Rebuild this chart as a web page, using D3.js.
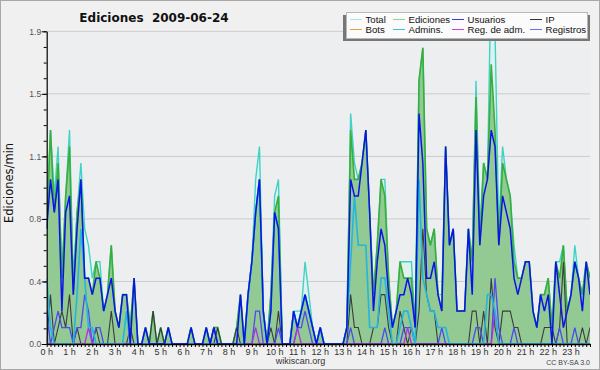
<!DOCTYPE html>
<html><head><meta charset="utf-8">
<script src="https://cdn.jsdelivr.net/npm/d3@7"></script>
<style>body{margin:0;background:#f0f0f0;} svg{display:block}</style>
</head><body><svg id="c" width="600" height="370"></svg>
<script>
const title = "Ediciones  2009-06-24";
const yLabel = "Ediciones/min";
const yTickLabels = ["0.0","0.4","0.8","1.1","1.5","1.9"];
const hourLabels = ["0 h","1 h","2 h","3 h","4 h","5 h","6 h","7 h","8 h","9 h","10 h","11 h",
  "12 h","13 h","14 h","15 h","16 h","17 h","18 h","19 h","20 h","21 h","22 h","23 h"];
const seriesNames = ["Total","Ediciones","Usuarios","IP","Bots","Admins.","Reg. de adm.","Registros"];
// edits per 10-minute slot (slot 0 = 0:00 ... slot 143 = 23:50); value/10 = ediciones por minuto
const total = [
  8,13,9,12,4,9,13,4,8,11,7,6,  4,5,5,2,3,6,2,1,3,3,1,4,
  0,0,1,0,2,0,1,0,1,0,0,0,  0,0,1,0,0,0,1,0,1,1,0,0,
  0,0,1,3,0,3,5,10,12,2,0,3,  9,10,0,0,0,2,2,2,5,3,1,0,
  1,0,0,0,0,0,0,1,14,11,10,11,  13,8,3,6,10,10,4,1,2,5,5,5,
  5,1,16,18,7,6,7,3,3,12,6,7,  2,2,2,7,5,16,7,11,10,23,19,7,
  12,10,9,6,4,4,5,5,2,1,3,3,  4,1,5,5,6,2,3,6,4,3,5,4];
const ediciones = [
  7,13,8,11,4,9,12,3,8,10,4,4,  3,5,4,2,3,6,2,1,3,3,1,4,
  0,0,1,0,2,0,1,0,1,0,0,0,  0,0,1,0,0,0,1,0,1,1,0,0,
  0,0,1,3,0,3,5,8,10,2,0,3,  8,9,0,0,0,2,1,2,3,2,1,0,
  1,0,0,0,0,0,0,1,13,10,10,11,  13,8,3,6,10,9,4,1,2,5,4,4,
  4,1,16,18,7,6,7,3,2,12,6,7,  2,2,2,7,5,15,6,11,10,17,13,6,
  11,10,9,5,4,4,5,5,2,1,3,3,  4,1,5,4,6,2,3,5,4,3,5,4];
const usuarios = [
  7,10,8,10,2,8,9,3,7,10,4,4,  3,4,4,2,3,4,2,1,3,3,0,4,
  0,0,1,0,0,0,0,0,1,0,0,0,  0,0,1,0,0,0,1,0,1,0,0,0,
  0,0,0,3,0,3,5,8,10,2,0,2,  8,7,0,0,0,2,1,2,3,2,1,0,
  1,0,0,0,0,0,0,1,10,9,9,11,  13,8,2,5,7,6,3,1,2,3,3,4,
  3,1,14,11,4,4,5,3,2,12,6,7,  2,2,2,7,3,13,6,9,10,13,12,6,
  9,8,7,4,3,4,5,5,2,1,3,2,  3,0,5,3,1,2,3,5,4,2,5,3];
const ip = [
  0,3,0,1,2,1,3,0,1,0,0,0,  0,1,0,0,0,2,0,0,0,0,1,0,
  0,0,0,0,2,0,1,0,0,0,0,0,  0,0,0,0,0,0,0,0,0,1,0,0,
  0,0,1,0,0,0,0,0,0,0,0,1,  0,2,0,0,0,0,0,0,0,0,0,0,
  0,0,0,0,0,0,0,0,3,1,1,0,  0,0,1,1,3,3,1,0,0,2,1,0,
  1,0,2,7,3,2,2,0,0,0,0,0,  0,0,0,0,2,2,0,2,0,4,1,0,
  2,2,2,1,1,0,0,0,0,0,0,1,  1,1,0,1,5,0,0,0,0,1,0,1];
const bots = [
  0,0,0,0,0,0,0,0,0,0,0,0,  0,0,0,0,0,0,0,0,0,0,0,0,
  0,0,0,0,0,0,0,0,0,0,0,0,  0,0,0,0,0,0,0,0,0,0,0,0,
  0,0,0,0,0,0,0,0,0,0,0,0,  0,0,0,0,0,0,0,0,0,0,0,0,
  0,0,0,0,0,0,0,0,0,0,0,0,  0,0,0,0,0,0,0,0,0,0,0,0,
  0,0,0,0,0,0,0,0,0,0,0,0,  0,0,0,0,0,0,0,0,0,0,0,0,
  0,0,0,0,0,0,0,0,0,0,0,0,  0,0,0,0,0,0,0,0,0,0,0,0];
const admins = [
  4,1,0,0,0,0,0,0,3,7,4,1,  1,0,0,0,0,0,0,0,0,2,0,0,
  0,0,0,0,0,0,0,0,0,0,0,0,  0,0,0,0,0,0,0,0,0,0,0,0,
  0,0,0,0,0,3,5,8,10,2,0,2,  8,7,0,0,0,2,1,2,3,2,1,0,
  1,0,0,0,0,0,0,1,5,9,6,6,  6,1,1,1,4,4,2,0,0,1,2,2,
  1,0,10,4,3,2,2,1,1,1,0,0,  0,0,0,0,0,0,0,0,3,3,2,0,
  0,0,0,0,0,0,0,0,0,0,0,0,  0,0,0,0,0,0,0,0,0,0,0,0];
const regAdm = [
  0,0,0,0,0,0,0,0,0,0,0,1,  0,0,0,0,0,0,0,0,0,0,0,0,
  0,0,0,0,0,0,0,0,0,0,0,0,  0,0,0,0,0,0,0,0,0,0,0,0,
  0,0,0,0,0,0,0,1,0,0,0,0,  0,0,0,0,0,0,1,0,0,0,0,0,
  0,0,0,0,0,0,0,0,0,0,0,0,  0,0,0,0,0,0,0,0,0,0,0,1,
  0,0,0,0,0,0,0,0,0,0,0,0,  0,0,0,0,0,0,0,0,0,0,2,0,
  0,0,0,0,0,0,0,0,0,0,0,0,  0,0,0,0,0,0,0,0,0,0,0,0];
const registros = [
  2,0,1,2,1,1,1,0,1,1,3,2,  0,1,1,0,0,0,0,0,0,0,0,0,
  0,0,0,0,0,0,0,0,0,0,0,0,  0,0,0,0,0,0,0,0,1,0,0,0,
  0,0,0,0,0,0,0,2,2,0,0,0,  0,1,0,0,0,0,1,1,2,1,0,0,
  0,0,0,0,0,0,0,0,1,0,0,0,  0,0,0,0,0,1,0,0,0,0,1,1,
  1,0,0,0,0,0,0,0,1,0,0,0,  0,0,0,0,0,1,1,0,0,0,4,1,
  0,0,0,1,0,0,0,0,0,0,0,0,  0,0,0,1,0,0,0,1,0,0,0,0];

const svg = d3.select("#c");
const L = 46.7, R = 590, T = 31.3, B = 344;
const yMax = 19;
const x = d3.scaleLinear().domain([0, total.length - 1]).range([L, R]);
const y = d3.scaleLinear().domain([0, yMax]).range([B, T]);

svg.append("rect").attr("x",0.5).attr("y",0.5).attr("width",599).attr("height",369)
  .attr("fill","#f0f0f0").attr("stroke","#a8a8a8");
svg.append("rect").attr("x",L).attr("y",T).attr("width",R-L).attr("height",B-T).attr("fill","#edeef0");

const majors = d3.range(0, 6).map(i => yMax * i / 5);
const minors = d3.range(0, 21).map(i => yMax * i / 20);
svg.append("g").selectAll("line").data(majors.slice(1)).join("line")
  .attr("x1",L).attr("x2",R).attr("y1",d=>y(d)).attr("y2",d=>y(d))
  .attr("stroke","#cbcbcb").attr("stroke-width",1);

svg.append("clipPath").attr("id","pc").append("rect")
  .attr("x",L).attr("y",T).attr("width",R-L).attr("height",B-T);
const plot = svg.append("g").attr("clip-path","url(#pc)");

const area = d3.area().x((d,i)=>x(i)).y0(y(0)).y1(d=>y(d));
const line = d3.line().x((d,i)=>x(i)).y(d=>y(d));
plot.append("path").datum(total).attr("d",area).attr("fill","#dff2ef");
plot.append("path").datum(ediciones).attr("d",area).attr("fill","#93c993");

const lineSeries = [
  [total, "#3fd3c6", 1.4],
  [ediciones, "#3aae3a", 1.6],
  [ip, "#3c3c3c", 1.1],
  [bots, "#f0a030", 1.1],
  [registros, "#4b4bef", 1.3],
  [regAdm, "#b030e0", 1.3],
  [admins, "#22b6e0", 1.6],
  [usuarios, "#0a14e8", 1.5]
];
lineSeries.forEach(([data,color,w]) => {
  plot.append("path").datum(data).attr("d",line).attr("fill","none")
    .attr("stroke",color).attr("stroke-width",w).attr("stroke-linejoin","miter");
});

// axes
const yAxis = svg.append("g").attr("transform",`translate(${L},0)`)
  .call(d3.axisLeft(y).tickValues(majors).tickFormat((d,i)=>yTickLabels[i]).tickSize(5).tickSizeOuter(0));
const yMinor = svg.append("g").attr("transform",`translate(${L},0)`)
  .call(d3.axisLeft(y).tickValues(minors).tickFormat("").tickSize(3).tickSizeOuter(0));
yMinor.select(".domain").remove();
yAxis.selectAll("text").attr("font-family","Liberation Sans, Arial, sans-serif").attr("font-size",8.5)
  .attr("fill","#555").attr("x",-5.5);
yAxis.select(".domain").attr("stroke","#000").attr("stroke-width",1.2);

const xAxis = svg.append("g").attr("transform",`translate(0,${B})`)
  .call(d3.axisBottom(x).tickValues(d3.range(0, total.length)).tickFormat("").tickSize(3).tickSizeOuter(0));
xAxis.select(".domain").attr("stroke","#000").attr("stroke-width",1.5);
svg.append("g").selectAll("text").data(hourLabels).join("text")
  .attr("x",(d,i)=>x(i*6)).attr("y",355).attr("text-anchor","middle")
  .attr("font-family","Liberation Sans, Arial, sans-serif").attr("font-size",9).attr("fill","#333").text(d=>d);

// titles
svg.append("text").attr("x",154).attr("y",21.5).attr("text-anchor","middle")
  .attr("font-family","DejaVu Sans, sans-serif").attr("font-weight","bold").attr("font-size",12)
  .attr("fill","#111").style("white-space","pre").text(title);
svg.append("text").attr("transform","translate(12.5,183) rotate(-90)").attr("text-anchor","middle")
  .attr("font-family","DejaVu Sans, sans-serif").attr("font-size",11.5).attr("fill","#111").text(yLabel);
svg.append("text").attr("x",300.5).attr("y",364).attr("text-anchor","middle")
  .attr("font-family","Liberation Sans, Arial, sans-serif").attr("font-size",9).attr("fill","#333").text("wikiscan.org");
svg.append("text").attr("x",590).attr("y",365).attr("text-anchor","end")
  .attr("font-family","Liberation Sans, Arial, sans-serif").attr("font-size",7).attr("fill","#444").text("CC BY-SA 3.0");

// legend
const legColors = ["#a8e6e0","#8fd48f","#3a3ad8","#333333","#f0a030","#38c4d8","#d040e0","#6e6ef0"];
const lg = svg.append("g");
lg.append("rect").attr("x",343).attr("y",15).attr("width",247).attr("height",26).attr("fill","#777");
lg.append("rect").attr("x",346.5).attr("y",12.5).attr("width",241).attr("height",26)
  .attr("fill","#fbfbfb").attr("stroke","#b8b8b8");
const colX = [350, 393, 452, 530];
seriesNames.forEach((name, i) => {
  const cx = colX[i % 4], cy = i < 4 ? 19.5 : 29.5;
  lg.append("line").attr("x1",cx).attr("x2",cx+12).attr("y1",cy).attr("y2",cy)
    .attr("stroke",legColors[i]).attr("stroke-width",1);
  lg.append("text").attr("x",cx+15.5).attr("y",cy+3.4)
    .attr("font-family","Liberation Sans, Arial, sans-serif").attr("font-size",9.6).attr("fill","#111").text(name);
});
</script></body></html>
